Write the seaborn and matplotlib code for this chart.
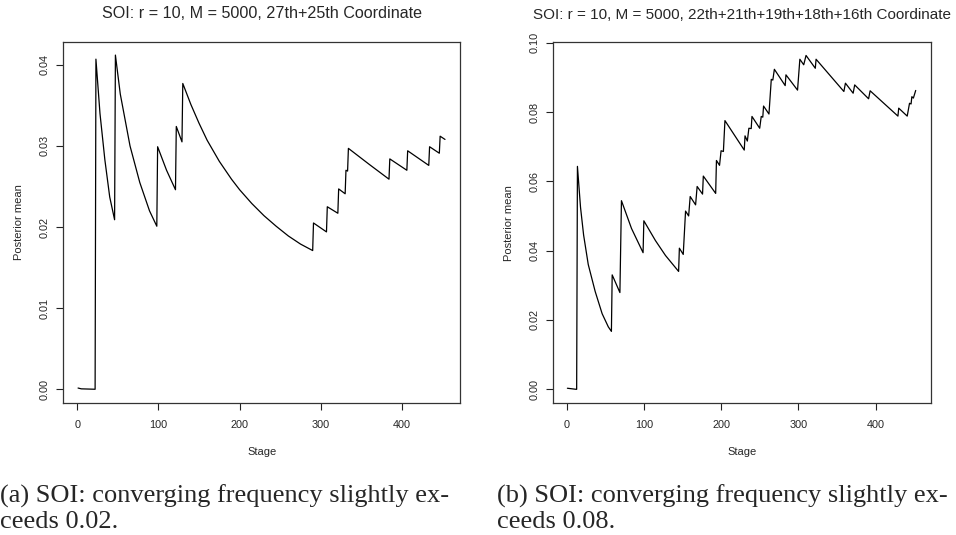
import matplotlib
matplotlib.use("Agg")
import matplotlib.pyplot as plt
import seaborn as sns
import pandas as pd

# ---- data ----
stage_a = [1, 5, 22, 23, 28, 34, 40, 46, 47, 53, 65, 77, 89, 98, 99, 110, 121, 122, 129, 130,
           140, 150, 160, 175, 190, 200, 215, 230, 245, 260, 275, 290, 291, 307, 308, 321,
           322, 330, 331, 333, 334, 360, 384, 385, 406, 407, 433, 434, 446, 447, 453]
value_a = [0.00015, 0.00005, 0.0, 0.0407, 0.0340, 0.0283, 0.0237, 0.0209, 0.0412, 0.0364,
           0.0300, 0.0255, 0.0220, 0.0201, 0.0299, 0.0270, 0.0246, 0.0324, 0.0305, 0.0377,
           0.0351, 0.0328, 0.0307, 0.0281, 0.0259, 0.0246, 0.0229, 0.0214, 0.0201, 0.0189,
           0.0179, 0.0171, 0.0205, 0.0194, 0.0225, 0.0217,
           0.0247, 0.0241, 0.0270, 0.0269, 0.0297, 0.0277, 0.0259, 0.0284, 0.0270, 0.0294,
           0.0276, 0.0299, 0.0291, 0.0312, 0.0308]

stage_b = [1, 12, 13, 14, 18, 22, 28, 37, 46, 54, 58, 59, 69, 71, 84, 99, 100, 115, 128, 145,
           146, 151, 154, 158, 160, 167, 169, 176, 177, 193, 194, 198, 200, 203, 205, 230, 231,
           234, 236, 239, 240, 250, 252, 254, 255, 262, 265, 267, 269, 283, 284, 299, 302, 307,
           310, 322, 323, 359, 361, 371, 373, 391, 393, 429, 430, 441, 444, 446, 447, 449, 452]
value_b = [0.0003, 0.0, 0.0, 0.0643, 0.0525, 0.0445, 0.0360, 0.0282, 0.0218, 0.0180, 0.0167,
           0.0330, 0.0279, 0.0544, 0.0464, 0.0394, 0.0486, 0.0429, 0.0386, 0.0340,
           0.0407, 0.0389, 0.0514, 0.0500, 0.0556, 0.0532, 0.0585, 0.0563, 0.0615, 0.0565,
           0.0660, 0.0646, 0.0688, 0.0686, 0.0775, 0.0690, 0.0731,
           0.0716, 0.0753, 0.0752, 0.0787, 0.0753, 0.0787, 0.0785, 0.0817, 0.0794, 0.0894,
           0.0892, 0.0923, 0.0876, 0.0907, 0.0863, 0.0952, 0.0936,
           0.0963, 0.0926, 0.0952, 0.0859, 0.0883, 0.0854, 0.0878, 0.0838, 0.0861, 0.0788,
           0.0811, 0.0788, 0.0825, 0.0823, 0.0844, 0.0840, 0.0862]

titles = ["SOI: r = 10, M = 5000, 27th+25th Coordinate",
          "SOI: r = 10, M = 5000, 22th+21th+19th+18th+16th Coordinate"]
captions = [("(a) SOI: converging frequency slightly ex-", "ceeds 0.02."),
            ("(b) SOI: converging frequency slightly ex-", "ceeds 0.08.")]
xticks = [0, 100, 200, 300, 400]
yticks_a = [0.00, 0.01, 0.02, 0.03, 0.04]
yticks_b = [0.00, 0.02, 0.04, 0.06, 0.08, 0.10]

sns.set_style("white")
plt.rcParams['font.family'] = ['Liberation Sans', 'DejaVu Sans']

fig = plt.figure(figsize=(9.56, 5.35), dpi=100)
ax_a = fig.add_axes([0.0662, 0.2462, 0.4150, 0.6760])
ax_b = fig.add_axes([0.5788, 0.2462, 0.3948, 0.6748])

df_a = pd.DataFrame({"Stage": stage_a, "Posterior mean": value_a})
df_b = pd.DataFrame({"Stage": stage_b, "Posterior mean": value_b})

panels = [(ax_a, df_a, yticks_a, (-0.00173, 0.04286), 11.6),
          (ax_b, df_b, yticks_b, (-0.00404, 0.1001), 11.0)]
for i, (ax, df, yt, ylim, tsize) in enumerate(panels):
    sns.lineplot(data=df, x="Stage", y="Posterior mean", ax=ax, sort=False,
                 estimator=None, color="black", linewidth=0.9)
    ax.set_xlim(-17.2, 471.5)
    ax.set_ylim(*ylim)
    ax.set_xticks(xticks)
    ax.set_yticks(yt)
    ax.set_xticklabels([str(t) for t in xticks])
    ax.set_yticklabels([f"{t:.2f}" for t in yt], rotation=90, va="center")
    ax.tick_params(axis="both", direction="out", length=5, width=0.8, color="#222222",
                   labelsize=7.8, left=True, bottom=True)
    ax.tick_params(axis="x", pad=7)
    ax.tick_params(axis="y", pad=5)
    for s in ax.spines.values():
        s.set_visible(True)
        s.set_color("#333333")
        s.set_linewidth(0.9)
    ax.set_xlabel("Stage", fontsize=8, labelpad=12)
    ax.set_ylabel("Posterior mean", fontsize=8, labelpad=11)
    ax.set_title(titles[i], fontsize=tsize, pad=17)

# captions
for j, x0 in enumerate([0.0, 497 / 956]):
    fig.text(x0, 1 - 503 / 535, captions[j][0], family="Liberation Serif", fontsize=19.0,
             va="baseline", ha="left")
    fig.text(x0, 1 - 527.5 / 535, captions[j][1], family="Liberation Serif", fontsize=19.0,
             va="baseline", ha="left")

fig.savefig("out.png", dpi=100)
